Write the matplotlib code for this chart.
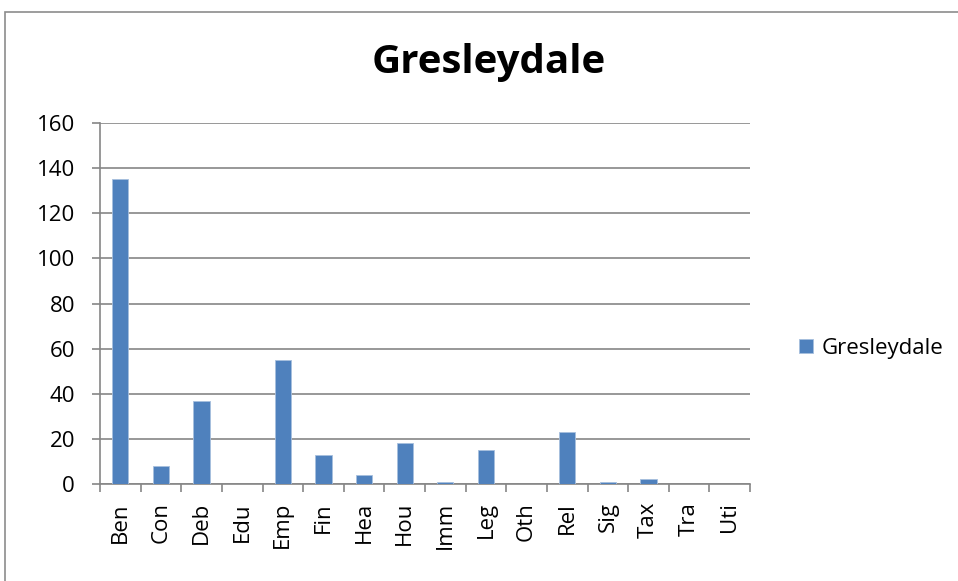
import matplotlib
matplotlib.use('Agg')
import matplotlib.pyplot as plt
from matplotlib.patches import Rectangle
import numpy as np

categories = ['Ben', 'Con', 'Deb', 'Edu', 'Emp', 'Fin', 'Hea', 'Hou',
              'Imm', 'Leg', 'Oth', 'Rel', 'Sig', 'Tax', 'Tra', 'Uti']
values = [135, 8, 37, 0, 55, 13, 4, 18, 1, 15, 0, 23, 1, 2, 0, 0]
series_name = 'Gresleydale'
y_ticks = [0, 20, 40, 60, 80, 100, 120, 140, 160]

plt.rcParams['font.family'] = ['Open Sans', 'DejaVu Sans']

fig = plt.figure(figsize=(9.58, 5.81), dpi=100)
ax = fig.add_axes([100 / 958, 1 - 484 / 581, 650 / 958, 361 / 581])

# outer chart frame
fig.patches.append(Rectangle((5 / 958, -0.1), 1.2, 1 - 12 / 581 + 0.1,
                             transform=fig.transFigure, fill=False,
                             edgecolor='#8c8c8c', linewidth=1.2))

x = np.arange(len(categories))
bars = ax.bar(x, values, width=0.4, color='#4f81bd', edgecolor='#a7bfde',
              linewidth=0.6, label=series_name, zorder=3)

ax.set_xlim(-0.5, len(categories) - 0.5)
ax.set_ylim(0, 160)
ax.set_yticks(y_ticks)
ax.set_yticklabels([str(t) for t in y_ticks], fontsize=16)
ax.yaxis.grid(True, color='#868686', linewidth=1.2, zorder=0)

ax.set_xticks(x)
ax.set_xticklabels(categories, rotation=90, fontsize=16)
ax.set_xticks(np.arange(-0.5, len(categories)), minor=True)
ax.tick_params(axis='x', which='major', length=0, pad=13)
ax.tick_params(axis='x', which='minor', length=6, width=1.2, color='#868686')
ax.tick_params(axis='y', length=6, width=1.2, color='#868686', pad=12)

for s in ['top', 'right']:
    ax.spines[s].set_visible(False)
for s in ['left', 'bottom']:
    ax.spines[s].set_color('#868686')
    ax.spines[s].set_linewidth(1.2)

fig.text(489 / 958, 1 - 62 / 581, series_name, ha='center', va='center',
         fontsize=29, fontweight='bold')

ax.legend(loc='center left', bbox_to_anchor=(1.045, 0.375), frameon=False,
          fontsize=16, handlelength=0.6, handleheight=0.6, handletextpad=0.4)

fig.savefig('out.png', dpi=100)
